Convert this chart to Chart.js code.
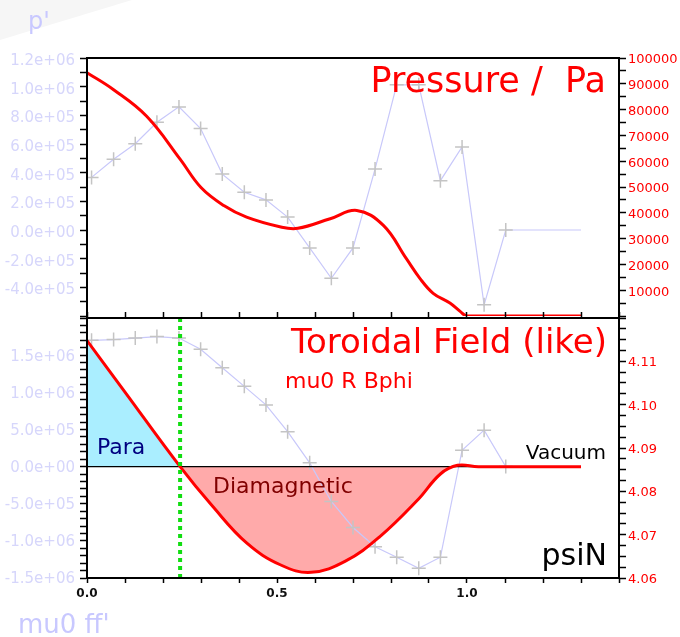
<!DOCTYPE html>
<html><head><meta charset="utf-8">
<script src="https://cdn.jsdelivr.net/npm/chart.js@4.4.0/dist/chart.umd.min.js"></script>
<style>
html,body{margin:0;padding:0;background:#fff;}
#wrap{position:relative;width:680px;height:637px;overflow:hidden;background:#fff;}
canvas{position:absolute;left:0;}
</style></head><body>
<div id="wrap">
<canvas id="top" width="680" height="330" style="top:0px"></canvas>
<canvas id="bot" width="680" height="337" style="top:300px"></canvas>
</div>
<script>
// ---- data ----
const psiGrid = [0.012,0.070,0.127,0.184,0.242,0.299,0.356,0.414,0.471,0.528,0.586,0.643,0.700,0.758,0.815,0.873,0.930,0.987,1.045,1.102,1.300];
const pPrime  = [3.67e5,4.94e5,6.02e5,7.52e5,8.59e5,7.08e5,3.90e5,2.63e5,2.10e5,0.90e5,-1.25e5,-3.37e5,-1.25e5,4.25e5,10.13e5,10.13e5,3.44e5,5.79e5,-5.22e5,0,0];
const ffPrime = [1.70e6,1.71e6,1.73e6,1.75e6,1.73e6,1.58e6,1.33e6,1.08e6,0.83e6,0.47e6,0.05e6,-0.47e6,-0.82e6,-1.08e6,-1.22e6,-1.37e6,-1.22e6,0.22e6,0.49e6,0,0];
const psiPres  = [0,0.07,0.157,0.245,0.30,0.36,0.42,0.51,0.555,0.64,0.71,0.78,0.84,0.876,0.911,0.955,0.982,1.0,1.3];
const pressure = [94300,87700,77400,60800,49800,42800,38300,34500,34000,37700,40900,35100,22300,14600,8800,5000,1800,0,0];
const psiF  = [0,0.10,0.245,0.33,0.42,0.51,0.59,0.68,0.77,0.87,0.93,0.975,1.03,1.3];
const fVals = [4.1148,4.1029,4.0857,4.0766,4.0681,4.0630,4.0613,4.0639,4.0695,4.0780,4.0840,4.0860,4.0857,4.0857];
const vacuumF = 4.0857;
const vacuumPsi = [0,1.3];
const psiMagAxis = 0.245;
const xLabels = ['0.0','0.5','1.0'];

const FONT = "'DejaVu Sans', sans-serif";
const pts = (xs, ys) => xs.map((x,i)=>({x:x, y:ys[i]}));
function sci(v){
  if (Math.abs(v) < 1e-6) return '0.0e+00';
  const s = v.toExponential(1).split('e');
  const sign = s[1][0];
  return s[0] + 'e' + sign + s[1].slice(1).padStart(2,'0');
}
const lastR = n => ctx => ctx.dataIndex === n-1 ? 0 : 7;

function framePlugin(texts, isTop){
  return {
    id:'frame',
    beforeDraw(chart){
      if(!isTop) return;
      const c = chart.ctx; c.save();
      c.fillStyle = '#f6f6f6';
      c.beginPath(); c.moveTo(0,0); c.lineTo(132,0); c.lineTo(0,40); c.closePath(); c.fill();
      c.restore();
    },
    afterDraw(chart){
      const c = chart.ctx, a = chart.chartArea;
      c.save();
      c.strokeStyle = '#000'; c.lineWidth = 2;
      c.beginPath();
      if (isTop) {
        c.moveTo(a.left, a.bottom); c.lineTo(a.left, a.top); c.lineTo(a.right, a.top); c.lineTo(a.right, a.bottom);
      } else {
        c.rect(a.left, a.top, a.right-a.left, a.bottom-a.top);
      }
      c.stroke();
      texts.forEach(t=>{
        c.font = t.f; c.fillStyle = t.c; c.textAlign = t.al; c.textBaseline = 'alphabetic';
        c.fillText(t.s, t.x, t.y);
      });
      c.restore();
    }
  };
}

const gridOpts = {drawOnChartArea:false, color:'#000', tickColor:'#000', tickLength:7, tickWidth:1.5};

// ---- top panel ----
new Chart(document.getElementById('top'), {
  type:'line',
  data:{datasets:[
    {label:'Pressure', data:pts(psiPres,pressure), yAxisID:'y2', borderColor:'#ff0000', borderWidth:3,
     pointRadius:0, tension:0.4, fill:false},
    {label:"p'", data:pts(psiGrid,pPrime), yAxisID:'y', borderColor:'rgba(200,200,250,1)', borderWidth:1.2,
     pointStyle:'cross', pointRadius:lastR(psiGrid.length), pointBorderColor:'#c4c4c4', pointBorderWidth:1.5,
     tension:0, fill:false}
  ]},
  options:{
    responsive:false, animation:false, devicePixelRatio:1,
    layout:{padding:{top:58,bottom:12,left:0,right:0}},
    plugins:{legend:{display:false}, tooltip:{enabled:false}},
    scales:{
      x:{type:'linear', min:0, max:1.4, display:false},
      y:{type:'linear', position:'left', min:-6e5, max:1.2e6,
         afterFit:s=>{s.width=87;},
         border:{color:'#000', width:2}, grid:gridOpts,
         ticks:{stepSize:1e5, autoSkip:false, padding:5, labelOffset:3, color:'#d6d6fb', font:{family:FONT,size:15},
           callback:v=>{const k=Math.round(v/1e5); return (k%2===0 && k>-6)? sci(k*1e5):'';}}},
      y2:{type:'linear', position:'right', min:0, max:100000,
         afterFit:s=>{s.width=61;},
         border:{color:'#000', width:2}, grid:gridOpts,
         ticks:{stepSize:5000, autoSkip:false, padding:2, labelOffset:2, color:'#ff0000', font:{family:FONT,size:13},
           callback:v=>{const k=Math.round(v/5000); return (k%2===0 && k>0)? String(k*5000):'';}}}
    }
  },
  plugins:[framePlugin([
    {s:"p'", x:28, y:29, f:`24px ${FONT}`, c:'#c8c8ff', al:'left'},
    {s:'Pressure /  Pa', x:606, y:92, f:`35px ${FONT}`, c:'#ff0000', al:'right'}
  ], true)]
});

// ---- bottom panel ----
const OY = 300;
new Chart(document.getElementById('bot'), {
  type:'line',
  data:{datasets:[
    {label:'axis', data:[{x:psiMagAxis,y:-1.5e6},{x:psiMagAxis,y:2.0e6}], xAxisID:'x', yAxisID:'y', borderColor:'#11dd11',
     borderWidth:4, borderDash:[4,4], pointRadius:0, fill:false},
    {label:'F', data:pts(psiF,fVals), xAxisID:'x', yAxisID:'y2', borderColor:'#ff0000', borderWidth:3, pointRadius:0,
     tension:0.4,
     fill:{value:vacuumF, above:'#aaeeff', below:'#ffaaaa'}},
    {label:'Vacuum', data:vacuumPsi.map(x=>({x:x,y:vacuumF})), xAxisID:'x', yAxisID:'y2', borderColor:'#000',
     borderWidth:1.3, pointRadius:0, fill:false},
    {label:"ff'", data:pts(psiGrid,ffPrime), xAxisID:'x', yAxisID:'y', borderColor:'rgba(200,200,250,1)', borderWidth:1.2,
     pointStyle:'cross', pointRadius:lastR(psiGrid.length), pointBorderColor:'#c4c4c4', pointBorderWidth:1.5,
     tension:0, fill:false}
  ]},
  options:{
    responsive:false, animation:false, devicePixelRatio:1,
    layout:{padding:{top:18,bottom:0,left:0,right:0}},
    plugins:{legend:{display:false}, tooltip:{enabled:false}, filler:{drawTime:'beforeDatasetsDraw'}},
    scales:{
      x:{type:'linear', position:'bottom', min:0, max:1.4, afterFit:s=>{s.height=59;},
         border:{color:'#000', width:2}, grid:{drawOnChartArea:false, tickColor:'#000', tickLength:5, tickWidth:1.5},
         ticks:{stepSize:0.1, autoSkip:false, maxRotation:0, padding:4, color:'#111', font:{family:FONT,size:12,weight:'bold'},
           callback:v=>{const k=Math.round(v*10); return (k%5===0)? xLabels[k/5] || '' : '';}}},
      xTop:{type:'linear', axis:'x', position:'top', min:0, max:1.4, afterFit:s=>{s.height=0;},
         border:{color:'#000', width:2}, grid:{drawOnChartArea:false, tickColor:'#000', tickLength:6, tickWidth:1.5},
         ticks:{stepSize:0.1, autoSkip:false, display:false}},
      y:{type:'linear', position:'left', min:-1.5e6, max:2.0e6,
         afterFit:s=>{s.width=87;},
         border:{color:'#000', width:2}, grid:gridOpts,
         ticks:{stepSize:1e5, autoSkip:false, padding:5, labelOffset:1.5, color:'#d6d6fb', font:{family:FONT,size:15},
           callback:v=>{const k=Math.round(v/1e5); return (k%5===0 && k<20)? sci(k*1e5):'';}}},
      y2:{type:'linear', position:'right', min:4.06, max:4.12,
         afterFit:s=>{s.width=61;},
         border:{color:'#000', width:2}, grid:gridOpts,
         ticks:{stepSize:0.0025, autoSkip:false, padding:2, labelOffset:1.5, color:'#ff0000', font:{family:FONT,size:13},
           callback:v=>{const k=Math.round(v/0.0025); return (k%4===0 && Math.abs(v-4.12)>1e-6)? v.toFixed(2):'';}}}
    }
  },
  plugins:[framePlugin([
    {s:'Toroidal Field (like)', x:607, y:353-OY, f:`34px ${FONT}`, c:'#ff0000', al:'right'},
    {s:'mu0 R Bphi', x:285, y:388-OY, f:`22px ${FONT}`, c:'#ff0000', al:'left'},
    {s:'Para', x:97, y:454-OY, f:`22px ${FONT}`, c:'#000080', al:'left'},
    {s:'Diamagnetic', x:213, y:493-OY, f:`22px ${FONT}`, c:'#800000', al:'left'},
    {s:'Vacuum', x:606, y:459-OY, f:`20px ${FONT}`, c:'#000', al:'right'},
    {s:'psiN', x:607, y:565-OY, f:`30px ${FONT}`, c:'#000', al:'right'},
    {s:"mu0 ff'", x:18, y:633-OY, f:`26px ${FONT}`, c:'#c8c8ff', al:'left'}
  ], false)]
});
</script>
</body></html>
